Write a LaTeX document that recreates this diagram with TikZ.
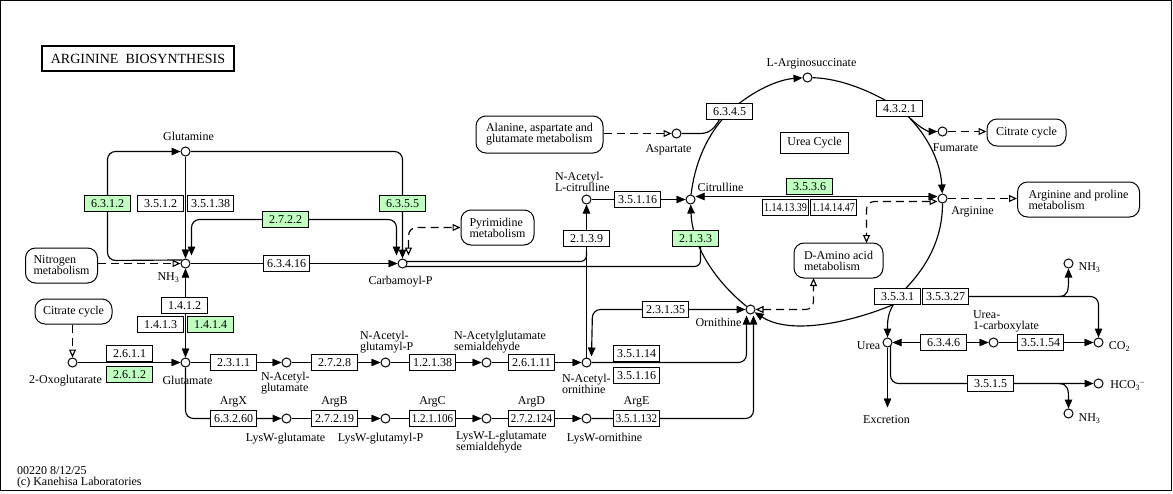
\documentclass[tikz,border=0pt]{standalone}
\usepackage{graphicx}
\usepackage{fontspec}
\setmainfont{Liberation Serif}
\usetikzlibrary{arrows.meta,calc,backgrounds}
\definecolor{kgreen}{HTML}{BFFFBF}
\tikzset{
  fa/.tip={Triangle[length=9pt,width=7.5pt]},
  oa/.tip={Triangle[open,length=8pt,width=7pt,fill=white]},
}
\begin{document}
\begin{tikzpicture}[x=1pt,y=-1pt,shift={(0.5,0.5)},line width=1pt,
  cpd/.style={circle,draw,fill=white,minimum size=9pt,inner sep=0pt,line width=1pt},
  enz/.style={draw,fill=white,minimum width=46pt,minimum height=16pt,inner sep=0pt,font=\fontsize{12}{12}\selectfont},
  genz/.style={enz,fill=kgreen},
  lbl/.style={font=\fontsize{12}{11}\selectfont,inner sep=0pt,align=left},
  mapbox/.style={draw,rounded corners=10pt,fill=white,align=left,font=\fontsize{12}{11}\selectfont,inner sep=0pt},
  cv/.style={line width=1.15pt},
  arr/.style={-fa},
  arrb/.style={fa-fa},
  dsh/.style={dash pattern=on 8pt off 5pt,line width=1.15pt},
  darr/.style={dsh,-oa},
  darrb/.style={dsh,oa-oa},
]
\useasboundingbox (-0.5,-0.5) rectangle (1172.5,492.5);
\draw (0,0) rectangle (1171,490);

% title
\node[draw,line width=2pt,minimum width=192pt,minimum height=25pt,inner sep=0pt,font=\fontsize{14}{14}\selectfont] (title) at (137.5,58) {ARGININE\ \ BIOSYNTHESIS};

% compounds
\node[cpd] (gln) at (185,151) {};
\node[cpd] (nh3) at (185,263) {};
\node[cpd] (cp) at (402,263) {};
\node[cpd] (og) at (72,362) {};
\node[cpd] (glu) at (185,362) {};
\node[cpd] (nag) at (286,362) {};
\node[cpd] (nagp) at (385,362) {};
\node[cpd] (nags) at (486,362) {};
\node[cpd] (nao) at (586,362) {};
\node[cpd] (lwg) at (286,418) {};
\node[cpd] (lwgp) at (385,418) {};
\node[cpd] (lwgs) at (486,418) {};
\node[cpd] (lwo) at (586,418) {};
\node[cpd] (orn) at (750,309) {};
\node[cpd] (nac) at (586,199) {};
\node[cpd] (cit) at (690,199) {};
\node[cpd] (asp) at (676,133) {};
\node[cpd] (ags) at (807,77) {};
\node[cpd] (fum) at (942,131) {};
\node[cpd] (arg) at (942,198) {};
\node[cpd] (urea) at (887,342) {};
\node[cpd] (u1c) at (993,342) {};
\node[cpd] (co2) at (1098,342) {};
\node[cpd] (nh3a) at (1068,263) {};
\node[cpd] (hco3) at (1098,383) {};
\node[cpd] (nh3b) at (1068,413) {};
\coordinate (excarr) at (887,407);

% enzymes
\node[genz] (e6312) at (107,203) {6.3.1.2};
\node[enz] (e3512) at (160,203) {3.5.1.2};
\node[enz] (e35138) at (210,203) {3.5.1.38};
\node[genz] (e2722) at (285,219) {2.7.2.2};
\node[genz] (e6355) at (402,203) {6.3.5.5};
\node[enz] (e63416) at (286,263) {6.3.4.16};
\node[enz] (e1412) at (184,305) {1.4.1.2};
\node[enz] (e1413) at (160,324) {1.4.1.3};
\node[genz] (e1414) at (210,324) {1.4.1.4};
\node[enz] (e2611) at (129,353) {2.6.1.1};
\node[genz] (e2612) at (129,374) {2.6.1.2};
\node[enz] (e2311) at (233,362) {2.3.1.1};
\node[enz] (e63260) at (233,418) {6.3.2.60};
\node[enz] (e2728) at (334,362) {2.7.2.8};
\node[enz] (e12138) at (432,362) {1.2.1.38};
\node[enz] (e26111) at (531,362) {2.6.1.11};
\node[enz] (e27219) at (334,418) {2.7.2.19};
\node[enz] (e121106) at (432,418) {\scalebox{0.92}[1]{1.2.1.106}};
\node[enz] (e272124) at (531,418) {\scalebox{0.92}[1]{2.7.2.124}};
\node[enz] (e351132) at (636,418) {\scalebox{0.92}[1]{3.5.1.132}};
\node[enz] (e35114) at (636,353) {3.5.1.14};
\node[enz] (e35116b) at (636,375) {3.5.1.16};
\node[enz] (e23135) at (665,309) {2.3.1.35};
\node[enz] (e2139) at (586,238) {2.1.3.9};
\node[genz] (e2133) at (695,238) {2.1.3.3};
\node[enz] (e35116) at (637,199) {3.5.1.16};
\node[genz] (e3536) at (809,186) {3.5.3.6};
\node[enz] (e11413) at (785,207) {\scalebox{0.84}[1]{1.14.13.39}};
\node[enz] (e11414) at (833,207) {\scalebox{0.84}[1]{1.14.14.47}};
\node[enz] (e6345) at (729,111) {6.3.4.5};
\node[enz] (e4321) at (899,108) {4.3.2.1};
\node[enz] (e3531) at (897,296) {3.5.3.1};
\node[enz] (e35327) at (945,296) {3.5.3.27};
\node[enz] (e6346) at (943,342) {6.3.4.6};
\node[enz] (e35154) at (1040,342) {3.5.1.54};
\node[enz] (e3515) at (990,383) {3.5.1.5};
\node[draw,lbl,minimum width=68pt,minimum height=21pt] (ucyc) at (814,142) {Urea Cycle};

% map boxes
\node[mapbox,minimum width=72pt,minimum height=35pt] (nit) at (61,265) {Nitrogen\\metabolism};
\node[mapbox,minimum width=77pt,minimum height=25pt] (cit1) at (73,311) {Citrate cycle};
\node[mapbox,minimum width=73pt,minimum height=35pt] (pyr) at (497,227) {Pyrimidine\\metabolism};
\node[mapbox,minimum width=127pt,minimum height=37pt] (ala) at (539,134) {Alanine, aspartate and\\glutamate metabolism};
\node[mapbox,minimum width=79pt,minimum height=27pt] (cit2) at (1026,132) {Citrate cycle};
\node[mapbox,minimum width=122pt,minimum height=35pt] (argpro) at (1078,199) {Arginine and proline\\metabolism};
\node[mapbox,minimum width=89pt,minimum height=35pt] (dam) at (838,260) {D-Amino acid\\metabolism};

% labels
\node[lbl] at (188,136) {Glutamine};
\node[lbl] at (168,277) {NH\textsubscript{3}};
\node[lbl] at (400,281) {Carbamoyl-P};
\node[lbl] at (65,380) {2-Oxoglutarate};
\node[lbl] at (187,380) {Glutamate};
\node[lbl,anchor=west] at (260,383) {N-Acetyl-\\glutamate};
\node[lbl,anchor=west] at (359,342) {N-Acetyl-\\glutamyl-P};
\node[lbl,anchor=west] at (453,342) {N-Acetylglutamate\\semialdehyde};
\node[lbl,anchor=west] at (561,383) {N-Acetyl-\\ornithine};
\node[lbl] at (285,438) {LysW-glutamate};
\node[lbl] at (380,438) {LysW-glutamyl-P};
\node[lbl,anchor=west] at (455,442) {LysW-L-glutamate\\semialdehyde};
\node[lbl] at (604,438) {LysW-ornithine};
\node[lbl] at (233,401) {ArgX};
\node[lbl] at (334,401) {ArgB};
\node[lbl] at (432,401) {ArgC};
\node[lbl] at (531,401) {ArgD};
\node[lbl] at (636,401) {ArgE};
\node[lbl,anchor=west] at (554,181) {N-Acetyl-\\L-citrulline};
\node[lbl] at (720,187) {Citrulline};
\node[lbl] at (668,149) {Aspartate};
\node[lbl] at (811,63) {L-Arginosuccinate};
\node[lbl] at (955,147) {Fumarate};
\node[lbl] at (972,211) {Arginine};
\node[lbl] at (718,322) {Ornithine};
\node[lbl] at (868,345) {Urea};
\node[lbl,anchor=west] at (972,321) {Urea-\\1-carboxylate};
\node[lbl] at (1119,346) {CO\textsubscript{2}};
\node[lbl] at (1127,385) {HCO\textsubscript{3}\textsuperscript{--}};
\node[lbl] at (1089,267) {NH\textsubscript{3}};
\node[lbl] at (1089,418) {NH\textsubscript{3}};
\node[lbl] at (886,419) {Excretion};
\node[anchor=west,align=left,inner sep=0pt,font=\fontsize{12}{11}\selectfont] at (16,477) {00220 8/12/25\\(c) Kanehisa Laboratories};

\begin{scope}[on background layer]
% glutamine / NH3 / carbamoyl-P
\draw[cv,arr,rounded corners=8pt] (nh3.north west) -- (107,260) -- (107,151) -- (gln);
\draw[arr] (gln) -- (nh3);
\draw[cv,arrb,rounded corners=8pt] ($(nh3.north)+(6,-3)$) -- (191,219) -- (396,219) -- ($(cp.north)+(-6,-3)$);
\draw[cv,arr,rounded corners=8pt] (gln) -- (402,151) -- (cp);
\draw[arr] (nh3) -- (cp);
\draw[darrb,rounded corners=8pt] ($(cp.north)+(6,-3)$) -- (408,227) -- (pyr.west);
\draw[darr] (nit.east |- nh3) -- (nh3);
\draw[arrb] (glu) -- (nh3);
\draw[darr] (og |- cit1.south) -- (og);
\draw[arr] (og) -- (glu);
% acetyl pathway
\draw[arr] (glu) -- (nag);
\draw[arr] (nag) -- (nagp);
\draw[arr] (nagp) -- (nags);
\draw[arr] (nags) -- (nao);
% LysW pathway
\draw[cv,arr,rounded corners=8pt] (glu) -- (185,418) -- (lwg);
\draw[arr] (lwg) -- (lwgp);
\draw[arr] (lwgp) -- (lwgs);
\draw[arr] (lwgs) -- (lwo);
\draw[cv,arr,rounded corners=8pt] (lwo) -- (753,418) -- ($(orn.south)+(3,1)$);
\draw[cv,arr,rounded corners=8pt] (nao) -- (746,362) -- ($(orn.south)+(-4,1)$);
\draw[cv,arrb,rounded corners=8pt] (orn) -- (592,309) -- ($(nao.north)+(5,-1)$);
\draw[arr] (nao) -- (nac);
% carbamoyl-P double lines
\draw[cv,rounded corners=6pt] ($(cp)+(0,-2)$) -- (586,261) -- (586,250);
\draw[cv,rounded corners=6pt] ($(cp)+(0,3)$) -- (700,266) -- (700,246);
\draw[arr] (nac) -- (cit);
% urea cycle
\draw[cv,arr] (orn) .. controls (720,285) and (692,250) .. (cit);
\draw[cv,arr] (cit) .. controls (694,165) and (705,135) .. (729,111) .. controls (752,90) and (778,79) .. (ags);
\draw[cv] (asp) -- (700,133) .. controls (710,133) and (715,126) .. (719,119);
\draw[darr] (ala.east |- asp) -- (asp);
\draw[cv,arr] (ags) .. controls (840,78) and (870,90) .. (899,108) .. controls (925,130) and (940,160) .. (arg);
\draw[cv,arr] (910,118) .. controls (920,128) and (928,131) .. (fum);
\draw[darr] (fum) -- (cit2.west |- fum);
\draw[arrb] ($(cit.east)+(0,-3)$) -- ($(arg.west)+(0,-2)$);
\draw[darrb,rounded corners=8pt] ($(arg.west)+(0,3)$) -- (866,201) -- (866,242.5);
\draw[darr] (arg) -- (argpro.west |- arg);
\draw[darrb,rounded corners=8pt] (orn) -- (813,309) -- (813,277.5);
\draw[cv] (arg) .. controls (942,240) and (925,270) .. (897,296);
\draw[cv,arr] (893,304) .. controls (850,322) and (790,335) .. (orn);
\draw[cv,arr] (893,304) .. controls (887,313) and (887,322) .. (urea);
% urea reactions
\draw[cv,arr,rounded corners=8pt] (e35327.east) -- (1098,296) -- (co2);
\draw[cv,arr] (1058,296) .. controls (1068,296) and (1068,290) .. (nh3a);
\draw[arrb] (urea) -- (u1c);
\draw[arr] (u1c) -- (co2);
\draw[arr] (urea) -- (excarr);
\draw[cv,arr,rounded corners=8pt] ($(urea)+(3,0)$) -- (890,383) -- (hco3);
\draw[cv,arr] (1058,383) .. controls (1068,383) and (1068,390) .. (nh3b);
\end{scope}
\end{tikzpicture}
\end{document}
